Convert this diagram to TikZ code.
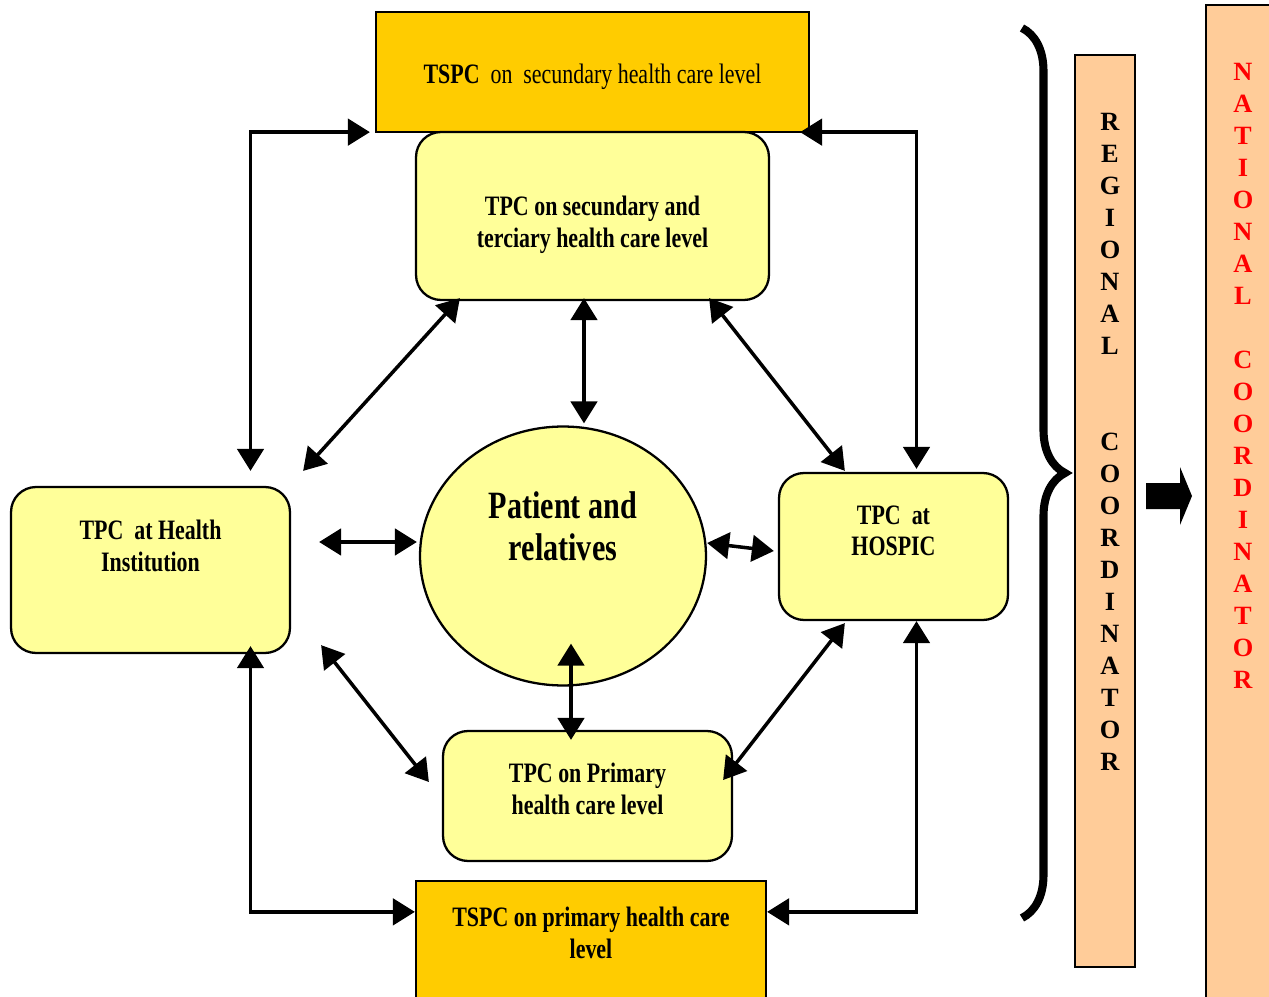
\documentclass[tikz,border=0pt]{standalone}
\usepackage{fontspec}
\usepackage{xcolor}
\usepackage{tikz}
\usetikzlibrary{positioning, shapes, calc, arrows.meta, decorations.pathreplacing}
\setmainfont{Liberation Serif}
\newfontfamily\narrowfont[FakeStretch=0.78]{Liberation Serif}
\definecolor{goldbox}{HTML}{FFCC00}
\definecolor{paleyellow}{HTML}{FFFF99}
\definecolor{peach}{HTML}{FFCC99}
\definecolor{natred}{HTML}{FF0000}

\tikzset{
  tspcbox/.style={draw, line width=1.3pt, fill=goldbox, inner sep=0pt},
  tpcbox/.style={draw, line width=1.3pt, fill=paleyellow, rounded corners=0.5cm, inner sep=0pt},
  boxtext/.style={font=\narrowfont\bfseries\fontsize{16}{18}\selectfont, align=center, inner sep=0pt},
  biarrow/.style={line width=2pt, {Triangle[length=12.5pt,width=15pt]}-{Triangle[length=12.5pt,width=15pt]}},
  coordbar/.style={draw, line width=1.3pt, fill=peach},
  lettercol/.style={font=\bfseries\fontsize{15}{18.2}\selectfont, align=center, inner sep=0pt},
}

\begin{document}
\begin{tikzpicture}[x=0.02cm, y=-0.02cm]
			\clip (0,0) rectangle (1269,997);
			%% boxes
			\node[tspcbox, minimum width=8.66cm, minimum height=2.4cm] (topbox) at (592.5,72) {};
			\node[font=\narrowfont\fontsize{16}{18}\selectfont, inner sep=0pt] (toptxt) at (592.5,77) {\textbf{TSPC}\ \ on\ \ secundary health care level};
			\node[tpcbox, minimum width=7.06cm, minimum height=3.36cm] (secbox) at (592.5,216) {};
			\node[boxtext] (sectxt) at (592.5,225) {TPC on secundary and\\ terciary health care level};
			\node[tpcbox, minimum width=5.58cm, minimum height=3.32cm] (health) at (150.5,570) {};
			\node[boxtext] (healthtxt) at (150.5,546) {TPC\ \ at Health\\ Institution};
			\node[tpcbox, minimum width=4.58cm, minimum height=2.94cm] (hospic) at (893.5,546.5) {};
			\node[boxtext] (hospictxt) at (893.5,531) {TPC\ \ at\\ HOSPIC};
			\node[draw, ellipse, line width=1.3pt, fill=paleyellow, minimum width=5.72cm, minimum height=5.18cm] (patient) at (563,556) {};
			\node[boxtext, font=\narrowfont\bfseries\fontsize{22}{24}\selectfont] (patienttxt) at (563,526) {Patient and\\ relatives};
			\node[tpcbox, minimum width=5.78cm, minimum height=2.6cm] (primary) at (587.5,796) {};
			\node[boxtext] (primarytxt) at (587.5,789) {TPC on Primary\\ health care level};
			\node[tspcbox, minimum width=7.0cm, minimum height=2.8cm] (bottom) at (591,951) {};
			\node[boxtext] (bottomtxt) at (591,933) {TSPC on primary health care\\ level};
			
			%% outer loops
			\draw[biarrow] ($(health.north)+(100,-15)$) |- ($(topbox.south west)+(-5,-1)$);
			\draw[biarrow] ($(topbox.south east)+(-10,-1)$) -| ($(hospic.north)+(23,-3)$);
			\draw[biarrow] ($(health.south)+(100,-8)$) |- ($(bottom.north west)+(0,32)$);
			\draw[biarrow] ($(hospic.south)+(23,0)$) |- ($(bottom.north east)+(0,32)$);
			%% inner links
			\draw[biarrow] ($(secbox.south west)+(45,-3)$) -- ($(health.north east)+(12,-15)$);
			\draw[biarrow] ($(secbox.south)+(-8.5,-3)$) -- ($(patient.north)+(21,-2)$);
			\draw[biarrow] ($(secbox.south east)+(-61,-3)$) -- ($(hospic.north west)+(67,-1)$);
			\draw[biarrow] ($(health.east)+(28,-28)$) -- ($(patient.west)+(-2,-14)$);
			\draw[biarrow] ($(patient.east)+(0,-13)$) -- ($(hospic.west)+(-4,4.5)$);
			\draw[biarrow] ($(patient.south)+(8,-43)$) -- ($(primary.north)+(-16.5,10)$);
			\draw[biarrow] ($(health.south east)+(30,-9)$) -- ($(primary.west)+(-13,-14)$);
			\draw[biarrow] ($(hospic.south west)+(67,2)$) -- ($(primary.east)+(-10,-16)$);
			
			%% coordinators
			\draw[line width=4.6pt, decorate, decoration={brace, amplitude=0.86cm}] (1022,28) -- (1022,918);
			\node[coordbar, minimum width=1.2cm, minimum height=18.24cm] (regional) at (1105,511) {};
			\node[lettercol, anchor=north] (regtxt) at (1110,113) {R\\E\\G\\I\\O\\N\\A\\L\\[36.4pt]C\\O\\O\\R\\D\\I\\N\\A\\T\\O\\R};
			\fill (1146,483) -- (1180,483) -- (1180,467) -- (1192,496) -- (1180,525) -- (1180,509) -- (1146,509) -- cycle;
			\node[coordbar, minimum width=1.88cm, minimum height=20.3cm] (national) at (1253,512.5) {};
			\node[lettercol, text=natred, anchor=north] (nattxt) at (1243,63) {N\\A\\T\\I\\O\\N\\A\\L\\[18.2pt]C\\O\\O\\R\\D\\I\\N\\A\\T\\O\\R};
\end{tikzpicture}
\end{document}
